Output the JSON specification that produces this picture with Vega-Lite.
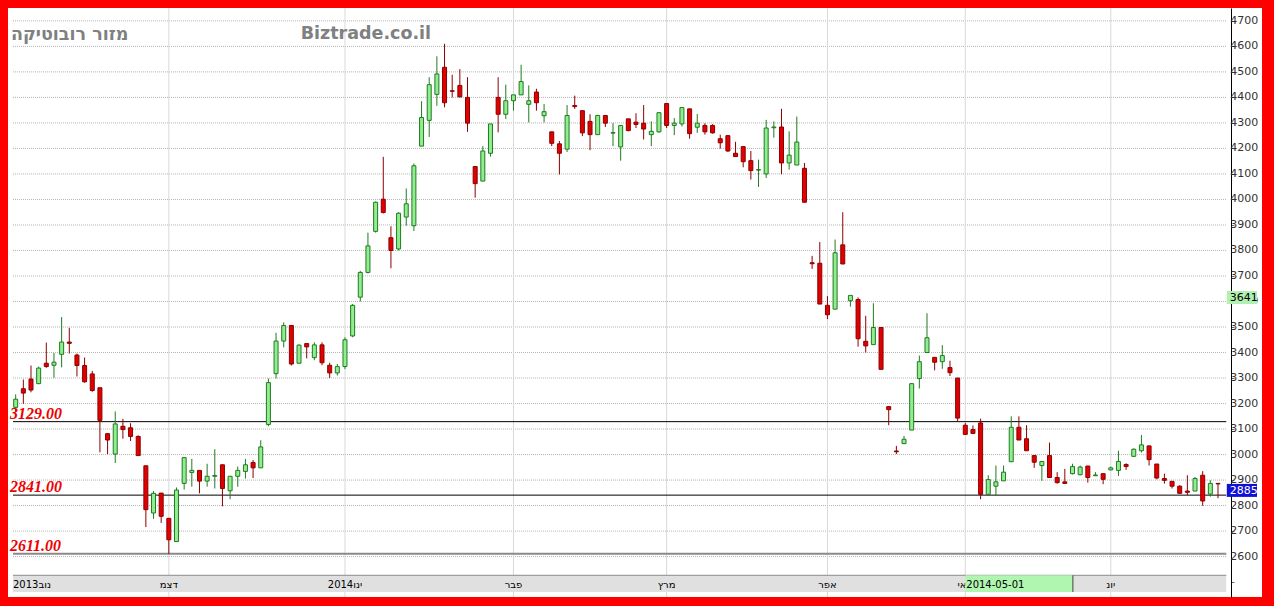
{
  "$schema": "https://vega.github.io/schema/vega-lite/v6.json",
  "width": 1254,
  "height": 589,
  "autosize": "none",
  "padding": {"left": 8, "top": 8, "right": 12, "bottom": 9},
  "background": "#ff0000",
  "config": {
    "view": {"fill": "#ffffff", "stroke": null},
    "axisX": {"disable": true},
    "axisY": {"grid": false, "title": null}
  },
  "datasets": {
    "candles": [
      {"i":0,"o":3185,"h":3236,"l":3169,"c":3217},{"i":1,"o":3258,"h":3294,"l":3199,"c":3241},{"i":2,"o":3296,"h":3349,"l":3244,"c":3253},
      {"i":3,"o":3278,"h":3345,"l":3276,"c":3339},{"i":4,"o":3358,"h":3439,"l":3340,"c":3345},{"i":5,"o":3350,"h":3398,"l":3301,"c":3362},
      {"i":6,"o":3393,"h":3539,"l":3342,"c":3441},{"i":7,"o":3441,"h":3497,"l":3396,"c":3436},{"i":8,"o":3390,"h":3396,"l":3306,"c":3349},
      {"i":9,"o":3349,"h":3380,"l":3282,"c":3285},{"i":10,"o":3316,"h":3328,"l":3246,"c":3251},{"i":11,"o":3262,"h":3262,"l":3009,"c":3134},
      {"i":12,"o":3082,"h":3082,"l":3002,"c":3057},{"i":13,"o":3002,"h":3169,"l":2967,"c":3120},{"i":14,"o":3111,"h":3140,"l":3062,"c":3098},
      {"i":15,"o":3105,"h":3123,"l":3053,"c":3071},{"i":16,"o":3071,"h":3075,"l":2995,"c":2996},{"i":17,"o":2956,"h":2956,"l":2716,"c":2784},
      {"i":18,"o":2771,"h":2857,"l":2748,"c":2848},{"i":19,"o":2849,"h":2849,"l":2732,"c":2758},{"i":20,"o":2750,"h":2750,"l":2611,"c":2666},
      {"i":21,"o":2659,"h":2871,"l":2659,"c":2861},{"i":22,"o":2887,"h":2989,"l":2863,"c":2988},{"i":23,"o":2930,"h":2983,"l":2874,"c":2938},
      {"i":24,"o":2938,"h":2938,"l":2848,"c":2896},{"i":25,"o":2896,"h":2964,"l":2874,"c":2915},{"i":26,"o":2915,"h":3021,"l":2867,"c":2918},
      {"i":27,"o":2960,"h":2960,"l":2797,"c":2867},{"i":28,"o":2858,"h":2915,"l":2825,"c":2915},{"i":29,"o":2915,"h":2953,"l":2874,"c":2938},
      {"i":30,"o":2934,"h":2983,"l":2906,"c":2960},{"i":31,"o":2969,"h":2979,"l":2908,"c":2948},{"i":32,"o":2948,"h":3056,"l":2948,"c":3030},
      {"i":33,"o":3118,"h":3298,"l":3111,"c":3282},{"i":34,"o":3317,"h":3477,"l":3298,"c":3445},{"i":35,"o":3445,"h":3518,"l":3420,"c":3506},
      {"i":36,"o":3506,"h":3506,"l":3349,"c":3355},{"i":37,"o":3358,"h":3432,"l":3358,"c":3429},{"i":38,"o":3435,"h":3435,"l":3377,"c":3422},
      {"i":39,"o":3380,"h":3440,"l":3370,"c":3430},{"i":40,"o":3430,"h":3440,"l":3350,"c":3360},{"i":41,"o":3350,"h":3360,"l":3300,"c":3320},
      {"i":42,"o":3320,"h":3355,"l":3310,"c":3345},{"i":43,"o":3345,"h":3460,"l":3335,"c":3450},{"i":44,"o":3465,"h":3590,"l":3460,"c":3585},
      {"i":45,"o":3617,"h":3720,"l":3600,"c":3714},{"i":46,"o":3714,"h":3870,"l":3710,"c":3818},{"i":47,"o":3875,"h":3992,"l":3870,"c":3989},
      {"i":48,"o":4001,"h":4167,"l":3945,"c":3949},{"i":49,"o":3850,"h":3895,"l":3730,"c":3800},{"i":50,"o":3806,"h":3950,"l":3800,"c":3946},
      {"i":51,"o":3931,"h":4043,"l":3897,"c":3983},{"i":52,"o":3897,"h":4141,"l":3876,"c":4132},{"i":53,"o":4209,"h":4385,"l":4209,"c":4321},
      {"i":54,"o":4310,"h":4479,"l":4245,"c":4450},{"i":55,"o":4412,"h":4561,"l":4367,"c":4492},{"i":56,"o":4518,"h":4610,"l":4361,"c":4379},
      {"i":57,"o":4426,"h":4489,"l":4400,"c":4424},{"i":58,"o":4447,"h":4511,"l":4400,"c":4402},{"i":59,"o":4400,"h":4479,"l":4265,"c":4299},
      {"i":60,"o":4129,"h":4129,"l":4007,"c":4062},{"i":61,"o":4072,"h":4209,"l":4072,"c":4190},{"i":62,"o":4181,"h":4296,"l":4168,"c":4296},
      {"i":63,"o":4400,"h":4479,"l":4263,"c":4334},{"i":64,"o":4334,"h":4450,"l":4315,"c":4387},{"i":65,"o":4387,"h":4410,"l":4348,"c":4410},
      {"i":66,"o":4410,"h":4528,"l":4410,"c":4462},{"i":67,"o":4373,"h":4447,"l":4302,"c":4387},{"i":68,"o":4421,"h":4434,"l":4348,"c":4379},
      {"i":69,"o":4328,"h":4374,"l":4302,"c":4344},{"i":70,"o":4265,"h":4265,"l":4209,"c":4220},{"i":71,"o":4218,"h":4229,"l":4098,"c":4181},
      {"i":72,"o":4197,"h":4370,"l":4186,"c":4329},{"i":73,"o":4368,"h":4407,"l":4355,"c":4364},{"i":74,"o":4348,"h":4348,"l":4248,"c":4261},
      {"i":75,"o":4306,"h":4334,"l":4193,"c":4254},{"i":76,"o":4254,"h":4332,"l":4254,"c":4329},{"i":77,"o":4329,"h":4329,"l":4284,"c":4299},
      {"i":78,"o":4260,"h":4299,"l":4209,"c":4262},{"i":79,"o":4206,"h":4292,"l":4152,"c":4290},{"i":80,"o":4316,"h":4316,"l":4267,"c":4270},
      {"i":81,"o":4303,"h":4338,"l":4280,"c":4294},{"i":82,"o":4299,"h":4370,"l":4235,"c":4276},{"i":83,"o":4254,"h":4306,"l":4209,"c":4267},
      {"i":84,"o":4265,"h":4343,"l":4262,"c":4340},{"i":85,"o":4376,"h":4378,"l":4280,"c":4290},{"i":86,"o":4290,"h":4319,"l":4252,"c":4299},
      {"i":87,"o":4296,"h":4360,"l":4286,"c":4360},{"i":88,"o":4355,"h":4356,"l":4238,"c":4258},{"i":89,"o":4283,"h":4335,"l":4261,"c":4299},
      {"i":90,"o":4290,"h":4299,"l":4254,"c":4265},{"i":91,"o":4290,"h":4295,"l":4258,"c":4261},{"i":92,"o":4238,"h":4254,"l":4199,"c":4222},
      {"i":93,"o":4250,"h":4252,"l":4186,"c":4190},{"i":94,"o":4181,"h":4226,"l":4167,"c":4168},{"i":95,"o":4207,"h":4207,"l":4126,"c":4148},
      {"i":96,"o":4152,"h":4190,"l":4078,"c":4113},{"i":97,"o":4115,"h":4156,"l":4049,"c":4117},{"i":98,"o":4100,"h":4312,"l":4084,"c":4280},
      {"i":99,"o":4281,"h":4306,"l":4242,"c":4284},{"i":100,"o":4284,"h":4355,"l":4099,"c":4143},{"i":101,"o":4143,"h":4267,"l":4117,"c":4174},
      {"i":102,"o":4135,"h":4325,"l":4135,"c":4225},{"i":103,"o":4122,"h":4143,"l":3989,"c":3989},{"i":104,"o":3752,"h":3779,"l":3728,"c":3748},
      {"i":105,"o":3750,"h":3833,"l":3590,"c":3590},{"i":106,"o":3585,"h":3621,"l":3531,"c":3548},{"i":107,"o":3570,"h":3843,"l":3570,"c":3791},
      {"i":108,"o":3822,"h":3950,"l":3747,"c":3747},{"i":109,"o":3603,"h":3624,"l":3580,"c":3624},{"i":110,"o":3608,"h":3616,"l":3423,"c":3454},
      {"i":111,"o":3444,"h":3544,"l":3400,"c":3426},{"i":112,"o":3431,"h":3593,"l":3431,"c":3498},{"i":113,"o":3498,"h":3498,"l":3334,"c":3334},
      {"i":114,"o":3188,"h":3188,"l":3115,"c":3176},{"i":115,"o":3014,"h":3034,"l":3002,"c":3011},{"i":116,"o":3043,"h":3073,"l":3041,"c":3060},
      {"i":117,"o":3096,"h":3280,"l":3096,"c":3278},{"i":118,"o":3298,"h":3388,"l":3259,"c":3364},{"i":119,"o":3400,"h":3554,"l":3400,"c":3458},
      {"i":120,"o":3381,"h":3381,"l":3330,"c":3362},{"i":121,"o":3364,"h":3429,"l":3336,"c":3388},{"i":122,"o":3341,"h":3368,"l":3308,"c":3321},
      {"i":123,"o":3300,"h":3300,"l":3131,"c":3143},{"i":124,"o":3115,"h":3124,"l":3079,"c":3079},{"i":125,"o":3098,"h":3114,"l":3083,"c":3083},
      {"i":126,"o":3124,"h":3141,"l":2825,"c":2844},{"i":127,"o":2844,"h":2919,"l":2844,"c":2902},{"i":128,"o":2876,"h":2957,"l":2838,"c":2893},
      {"i":129,"o":2897,"h":2957,"l":2897,"c":2931},{"i":130,"o":2972,"h":3150,"l":2972,"c":3107},{"i":131,"o":3107,"h":3150,"l":3057,"c":3057},
      {"i":132,"o":3062,"h":3115,"l":3015,"c":3015},{"i":133,"o":2996,"h":2996,"l":2948,"c":2970},{"i":134,"o":2957,"h":2973,"l":2897,"c":2973},
      {"i":135,"o":2996,"h":3047,"l":2910,"c":2910},{"i":136,"o":2910,"h":2931,"l":2886,"c":2890},{"i":137,"o":2893,"h":2944,"l":2886,"c":2887},
      {"i":138,"o":2925,"h":2964,"l":2922,"c":2953},{"i":139,"o":2921,"h":2957,"l":2919,"c":2951},{"i":140,"o":2955,"h":2955,"l":2890,"c":2910},
      {"i":141,"o":2917,"h":2931,"l":2916,"c":2920},{"i":142,"o":2925,"h":2925,"l":2884,"c":2903},{"i":143,"o":2940,"h":2953,"l":2938,"c":2948},
      {"i":144,"o":2938,"h":3015,"l":2916,"c":2973},{"i":145,"o":2961,"h":2966,"l":2940,"c":2953},{"i":146,"o":2993,"h":3024,"l":2993,"c":3021},
      {"i":147,"o":3015,"h":3077,"l":3008,"c":3038},{"i":148,"o":3034,"h":3034,"l":2957,"c":2980},{"i":149,"o":2963,"h":2963,"l":2903,"c":2908},
      {"i":150,"o":2906,"h":2925,"l":2886,"c":2899},{"i":151,"o":2895,"h":2896,"l":2867,"c":2876},{"i":152,"o":2876,"h":2880,"l":2848,"c":2848},
      {"i":153,"o":2857,"h":2919,"l":2841,"c":2852},{"i":154,"o":2857,"h":2912,"l":2857,"c":2906},{"i":155,"o":2919,"h":2935,"l":2799,"c":2818},
      {"i":156,"o":2845,"h":2899,"l":2835,"c":2887},{"i":157,"o":2887,"h":2888,"l":2829,"c":2885}
    ],
    "priceGrid": [
      {"p":2600},{"p":2700},{"p":2800},{"p":2900},{"p":3000},{"p":3100},{"p":3200},{"p":3300},{"p":3400},{"p":3500},{"p":3600},
      {"p":3700},{"p":3800},{"p":3900},{"p":4000},{"p":4100},{"p":4200},{"p":4300},{"p":4400},{"p":4500},{"p":4600},{"p":4700}
    ],
    "months": [
      {"i":0,"m":"נוב2013"},{"i":20,"m":"דצמ"},{"i":43,"m":"ינו2014"},{"i":65,"m":"פבר"},
      {"i":85,"m":"מרץ"},{"i":106,"m":"אפר"},{"i":124,"m":"מאי"},{"i":143,"m":"יונ"}
    ],
    "levels": [{"p":3129},{"p":2841},{"p":2611}],
    "marker": [{"i":124,"d":"2014-05-01"}],
    "priceTags": [{"p":3641,"k":"cursor"},{"p":2885,"k":"last"}]
  },
  "layer": [
    {
      "data": {"name": "priceGrid"},
      "mark": {"type": "rule", "stroke": "#b4b4b4", "strokeDash": [1, 1], "strokeWidth": 1},
      "encoding": {
        "y": {
          "field": "p", "type": "quantitative",
          "scale": {"domain": [2461.29, 4730.83], "nice": false, "zero": false},
          "axis": {
            "orient": "right", "offset": -31, "title": null, "grid": false, "labels": false,
            "values": [2500,2550,2600,2650,2700,2750,2800,2850,2900,2950,3000,3050,3100,3150,3200,3250,3300,3350,3400,3450,3500,3550,3600,3650,3700,3750,3800,3850,3900,3950,4000,4050,4100,4150,4200,4250,4300,4350,4400,4450,4500,4550,4600,4650,4700],
            "domainColor": "#000000", "domainWidth": 1,
            "tickColor": "#666666", "tickSize": 3, "tickWidth": 1,
            "zindex": 0
          }
        },
        "x": {"datum": -0.3498, "type": "quantitative", "scale": {"domain": [-0.3498, 162.092], "nice": false, "zero": false}, "axis": null},
        "x2": {"datum": 158.08}
      }
    },
    {
      "data": {"name": "months"},
      "transform": [{"filter": "datum.i > 0"}],
      "mark": {"type": "rule", "stroke": "#d9d9d9", "strokeWidth": 1},
      "encoding": {
        "x": {"field": "i", "type": "quantitative", "axis": null}
      }
    },
    {
      "data": {"name": "levels"},
      "mark": {"type": "rule"},
      "encoding": {
        "y": {"field": "p", "type": "quantitative"},
        "x": {"datum": -0.3498, "type": "quantitative", "axis": null},
        "x2": {"datum": 158.08},
        "stroke": {"condition": {"test": "datum.p === 2611", "value": "#8a8a8a"}, "value": "#000000"},
        "strokeWidth": {"condition": {"test": "datum.p === 2611", "value": 2}, "value": 1}
      }
    },
    {
      "data": {"name": "candles"},
      "mark": {"type": "rule", "strokeWidth": 1},
      "encoding": {
        "x": {"field": "i", "type": "quantitative", "axis": null},
        "y": {"field": "l", "type": "quantitative"},
        "y2": {"field": "h"},
        "stroke": {"condition": {"test": "datum.c >= datum.o", "value": "#217a21"}, "value": "#8b0000"}
      }
    },
    {
      "data": {"name": "candles"},
      "mark": {"type": "bar", "orient": "vertical", "width": 4, "strokeWidth": 1},
      "encoding": {
        "x": {"field": "i", "type": "quantitative", "axis": null},
        "y": {"field": "o", "type": "quantitative"},
        "y2": {"field": "c"},
        "fill": {"condition": {"test": "datum.c >= datum.o", "value": "#90ee90"}, "value": "#e00000"},
        "stroke": {"condition": {"test": "datum.c >= datum.o", "value": "#217a21"}, "value": "#8b0000"}
      }
    },
    {
      "data": {"name": "priceGrid"},
      "mark": {"type": "text", "align": "left", "baseline": "middle", "dx": 4, "font": "DejaVu Sans", "fontSize": 11, "fill": "#333333"},
      "encoding": {
        "x": {"datum": 158.08, "type": "quantitative", "axis": null},
        "y": {"field": "p", "type": "quantitative"},
        "text": {"field": "p", "type": "quantitative", "format": "d"}
      }
    },
    {
      "data": {"name": "levels"},
      "mark": {"type": "text", "align": "left", "baseline": "alphabetic", "dx": -3, "dy": -3,
               "font": "Liberation Serif", "fontStyle": "italic", "fontWeight": "bold", "fontSize": 16, "fill": "#ee0000"},
      "encoding": {
        "x": {"datum": -0.3498, "type": "quantitative", "axis": null},
        "y": {"field": "p", "type": "quantitative"},
        "text": {"field": "p", "type": "quantitative", "format": ".2f"}
      }
    },
    {
      "data": {"values": [{"t": "מזור רובוטיקה"}]},
      "mark": {"type": "text", "align": "left", "baseline": "middle", "dx": -4, "font": "DejaVu Sans", "fontSize": 17.5, "fontWeight": "bold", "fill": "#808080"},
      "encoding": {
        "x": {"datum": -0.1, "type": "quantitative", "axis": null},
        "y": {"datum": 4646, "type": "quantitative"},
        "text": {"field": "t"}
      }
    },
    {
      "data": {"values": [{"t": "Biztrade.co.il"}]},
      "mark": {"type": "text", "align": "left", "baseline": "middle", "dx": -2, "font": "DejaVu Sans", "fontSize": 17.5, "fontWeight": "bold", "fill": "#808080"},
      "encoding": {
        "x": {"datum": 37.48, "type": "quantitative", "axis": null},
        "y": {"datum": 4650, "type": "quantitative"},
        "text": {"field": "t"}
      }
    },
    {
      "data": {"values": [{}]},
      "mark": {"type": "rect", "fill": "#e0e0e0"},
      "encoding": {
        "x": {"datum": -0.3498, "type": "quantitative", "axis": null},
        "x2": {"datum": 158.08},
        "y": {"datum": 2461.29, "type": "quantitative"},
        "y2": {"datum": 2526.8}
      }
    },
    {
      "data": {"values": [{}]},
      "mark": {"type": "rule", "stroke": "#8c8c8c", "strokeWidth": 1},
      "encoding": {
        "x": {"datum": -0.3498, "type": "quantitative", "axis": null},
        "x2": {"datum": 158.08},
        "y": {"datum": 2526.8, "type": "quantitative"}
      }
    },
    {
      "data": {"name": "months"},
      "transform": [{"filter": "datum.i > 0"}],
      "mark": {"type": "text", "align": "center", "baseline": "middle", "font": "DejaVu Sans", "fontSize": 10, "fill": "#000000"},
      "encoding": {
        "x": {"field": "i", "type": "quantitative", "axis": null},
        "y": {"datum": 2488.3, "type": "quantitative"},
        "text": {"field": "m"}
      }
    },
    {
      "data": {"name": "months"},
      "transform": [{"filter": "datum.i === 0"}],
      "mark": {"type": "text", "align": "left", "baseline": "middle", "font": "DejaVu Sans", "fontSize": 10, "fill": "#000000"},
      "encoding": {
        "x": {"datum": -0.3498, "type": "quantitative", "axis": null},
        "y": {"datum": 2488.3, "type": "quantitative"},
        "text": {"field": "m"}
      }
    },
    {
      "data": {"name": "marker"},
      "mark": {"type": "rect", "fill": "#b0f5b0"},
      "encoding": {
        "x": {"field": "i", "type": "quantitative", "axis": null},
        "x2": {"datum": 138.05},
        "y": {"datum": 2461.29, "type": "quantitative"},
        "y2": {"datum": 2526.8}
      }
    },
    {
      "data": {"values": [{}]},
      "mark": {"type": "rule", "stroke": "#444444", "strokeWidth": 1},
      "encoding": {
        "x": {"datum": 138.05, "type": "quantitative", "axis": null},
        "y": {"datum": 2461.29, "type": "quantitative"},
        "y2": {"datum": 2526.8}
      }
    },
    {
      "data": {"name": "marker"},
      "mark": {"type": "text", "align": "left", "baseline": "middle", "dx": 1, "font": "DejaVu Sans", "fontSize": 10, "fill": "#000000"},
      "encoding": {
        "x": {"field": "i", "type": "quantitative", "axis": null},
        "y": {"datum": 2488.3, "type": "quantitative"},
        "text": {"field": "d"}
      }
    },
    {
      "data": {"name": "priceTags"},
      "mark": {"type": "bar", "orient": "horizontal", "height": 13},
      "encoding": {
        "x": {"datum": 158.15, "type": "quantitative", "axis": null},
        "x2": {"datum": 162.09},
        "y": {"field": "p", "type": "quantitative"},
        "yOffset": {"value": 6.5},
        "fill": {"condition": {"test": "datum.k === 'last'", "value": "#1010d8"}, "value": "#b0f0b0"}
      }
    },
    {
      "data": {"name": "priceTags"},
      "mark": {"type": "text", "align": "left", "baseline": "top", "dx": 3, "dy": 1, "font": "DejaVu Sans", "fontSize": 11},
      "encoding": {
        "x": {"datum": 158.15, "type": "quantitative", "axis": null},
        "y": {"field": "p", "type": "quantitative"},
        "text": {"field": "p", "type": "quantitative", "format": "d"},
        "fill": {"condition": {"test": "datum.k === 'last'", "value": "#ffffff"}, "value": "#000000"}
      }
    }
  ]
}
